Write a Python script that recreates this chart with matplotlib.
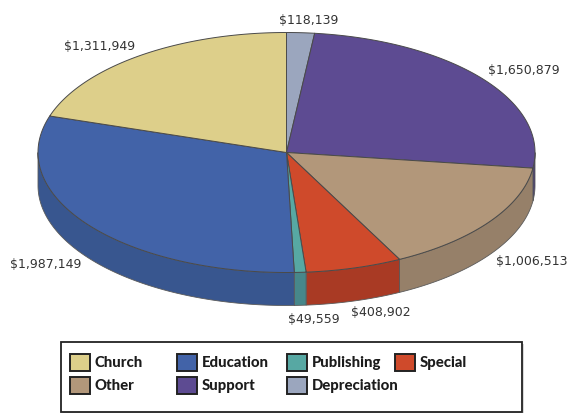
import matplotlib
matplotlib.use("Agg")
import matplotlib.pyplot as plt
from matplotlib.patches import Rectangle
import numpy as np

# Slices clockwise from twelve o'clock
names = ["Depreciation", "Support", "Other", "Special", "Publishing", "Education", "Church"]
amounts = [118139, 1650879, 1006513, 408902, 49559, 1987149, 1311949]
colors = ["#9BA6BE", "#5D4B92", "#B2977A", "#CF4A2B", "#57A8A3", "#4263A8", "#DDCF8A"]
side_colors = ["#7C8598", "#4A3C75", "#968069", "#A93A24", "#47878A", "#38568F", "#B2A66E"]

# Label anchors for each slice's amount
label_x = [309, 524, 532, 381, 314, 46, 100]
label_y = [20, 70, 262, 313, 320, 265, 46]

# Legend layout, read row by row
legend_rows = [["Church", "Education", "Publishing", "Special"],
               ["Other", "Support", "Depreciation"]]
legend_col_x = [70, 177, 287, 395]
legend_row_y = [355, 378]

cx, cy = 286.5, 153.5
rx, ry = 248.5, 120
depth = 33
edge = "#4a4a4a"

fig = plt.figure(figsize=(5.67, 4.14), dpi=100)
ax = fig.add_axes([0, 0, 1, 1])
ax.set_xlim(0, 567)
ax.set_ylim(414, 0)
ax.axis("off")


def rim(a0, a1):
    t = np.linspace(a0, a1, 200)
    return cx + rx * np.sin(t), cy - ry * np.cos(t)


fractions = np.array(amounts) / sum(amounts)
ends = np.cumsum(fractions) * 2 * np.pi
starts = ends - fractions * 2 * np.pi

# Side wall first, only the front half of the disc shows it
for a0, a1, col in zip(starts, ends, side_colors):
    lo, hi = max(a0, np.pi / 2), min(a1, 3 * np.pi / 2)
    if lo >= hi:
        continue
    x, y = rim(lo, hi)
    ax.fill(np.r_[x, x[::-1]], np.r_[y, y[::-1] + depth], fc=col, ec="#5a5a5a", lw=0.6, zorder=2)

# Top face
for a0, a1, col in zip(starts, ends, colors):
    x, y = rim(a0, a1)
    ax.fill(np.r_[cx, x], np.r_[cy, y], fc=col, ec=edge, lw=0.7, zorder=3, joinstyle="round")

for name, amt, lx, ly in zip(names, amounts, label_x, label_y):
    ax.text(lx, ly, "${:,}".format(amt), ha="center", va="center", fontsize=9,
            family="DejaVu Sans", color="#333333", zorder=5)

# Legend box with a faint shadow
ax.add_patch(Rectangle((63, 345), 461, 70, fc="#d9d9d9", ec="none", zorder=1))
ax.add_patch(Rectangle((61, 343), 461, 70, fc="white", ec="#222222", lw=1.3, zorder=2))

lookup = dict(zip(names, colors))
for row, row_y in zip(legend_rows, legend_row_y):
    for name, col_x in zip(row, legend_col_x):
        ax.add_patch(Rectangle((col_x, row_y), 20, 17, fc=lookup[name], ec="#222222", lw=1.4, zorder=3))
        ax.text(col_x + 24.5, row_y + 8.5, name, ha="left", va="center", fontsize=10.7,
                family="Lato", weight="black", color="#1c1c1c", zorder=3)

fig.savefig("out.png", dpi=100)
